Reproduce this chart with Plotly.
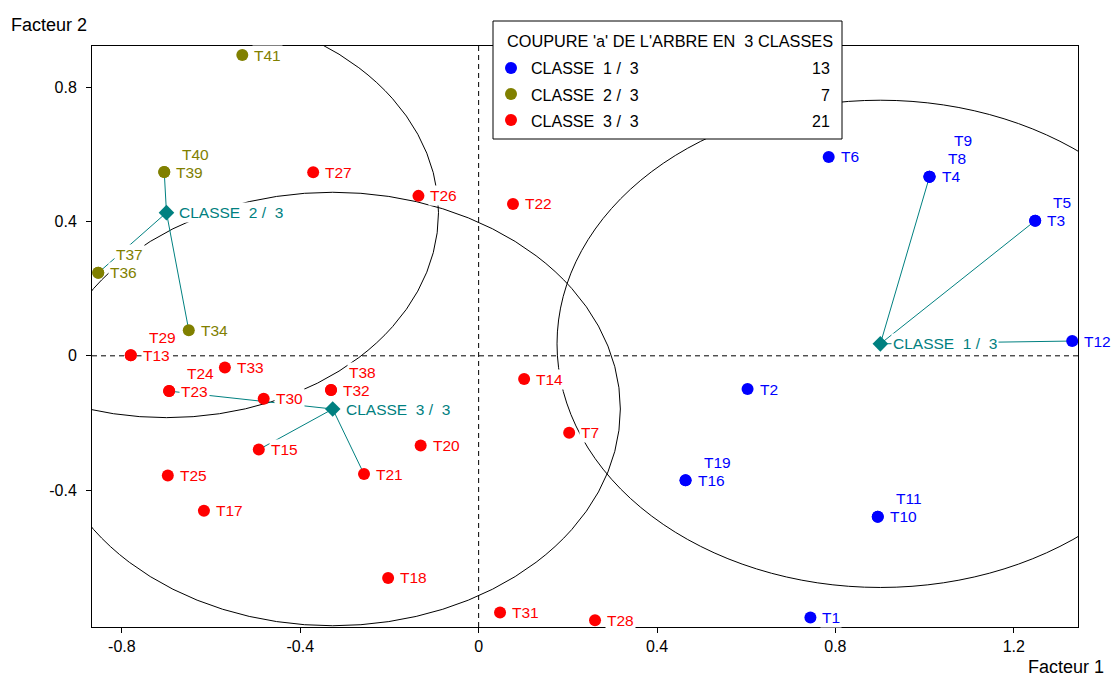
import numpy as np
import plotly.graph_objects as go

# Individuals on the first factorial plane, with their class (1, 2 or 3)
noms = ["T1", "T2", "T3", "T4", "T5", "T6", "T7", "T8", "T9", "T10",
        "T11", "T12", "T13", "T14", "T15", "T16", "T17", "T18", "T19", "T20",
        "T21", "T22", "T23", "T24", "T25", "T26", "T27", "T28", "T29", "T30",
        "T31", "T32", "T33", "T34", "T35", "T36", "T37", "T38", "T39", "T40",
        "T41"]
facteur1 = [0.744, 0.603, 1.248, 1.011, 1.248, 0.785, 0.203, 1.011, 1.011, 0.895,
            0.895, 1.331, -0.780, 0.102, -0.493, 0.464, -0.616, -0.203, 0.464, -0.130,
            -0.257, 0.077, -0.694, -0.694, -0.697, -0.135, -0.371, 0.261, -0.780, -0.482,
            0.048, -0.331, -0.569, -0.650, -0.604, -0.853, -0.853, -0.331, -0.705, -0.705,
            -0.530]
facteur2 = [-0.779, -0.099, 0.402, 0.533, 0.402, 0.592, -0.229, 0.533, 0.533, -0.479,
            -0.479, 0.044, 0.002, -0.069, -0.279, -0.370, -0.461, -0.661, -0.370, -0.267,
            -0.352, 0.452, -0.105, -0.105, -0.356, 0.476, 0.546, -0.787, 0.002, -0.128,
            -0.764, -0.102, -0.035, 0.076, 0.423, 0.247, 0.247, -0.102, 0.547, 0.547,
            0.895]
classe = [1, 1, 1, 1, 1, 1, 3, 1, 1, 1,
          1, 1, 3, 3, 3, 1, 3, 3, 1, 3,
          3, 3, 3, 3, 3, 3, 3, 3, 3, 3,
          3, 3, 3, 2, 2, 2, 2, 3, 2, 2,
          2]

classes = [1, 2, 3]
libelles_classes = ["CLASSE\u00a0\u00a0%d\u00a0/\u00a0\u00a03" % c for c in classes]
couleurs = {1: "#0000FF", 2: "#808000", 3: "#FF0000"}
rayons = {1: 0.725, 2: 0.61, 3: 0.645}
# individuals joined to their class centre
liens = {1: ["T4", "T3", "T12"], 2: ["T39", "T34", "T36"], 3: ["T23", "T15", "T21"]}
# labels lying under a class-centre label are not written
sans_etiquette = ["T35"]

titre_legende = "COUPURE 'a' DE L'ARBRE EN\u00a0\u00a03 CLASSES"
x_ticks = [-0.8, -0.4, 0, 0.4, 0.8, 1.2]
x_ticktext = ["-0.8", "-0.4", "0", "0.4", "0.8", "1.2"]
y_ticks = [-0.4, 0, 0.4, 0.8]
y_ticktext = ["-0.4", "0", "0.4", "0.8"]

TEAL = "#008080"
FONT = "Liberation Sans, Arial, sans-serif"
FS = 15.5

W, H = 1112, 680
L, R, T, B = 92, 34, 46, 53

fx = np.array(facteur1)
fy = np.array(facteur2)
cl = np.array(classe)

fig = go.Figure()
shapes = []
annotations = []

# class centres
centres = {c: (fx[cl == c].mean(), fy[cl == c].mean()) for c in classes}

# class circles
for c in classes:
    cx, cy = centres[c]
    r = rayons[c]
    shapes.append(dict(type="circle", xref="x", yref="y", layer="below",
                       x0=cx - r, x1=cx + r, y0=cy - r, y1=cy + r,
                       line=dict(color="black", width=1)))

# dashed axes through the origin
shapes.append(dict(type="line", xref="x", yref="paper", x0=0, x1=0, y0=0, y1=1,
                   layer="below", line=dict(color="black", width=1, dash="5px,4px")))
shapes.append(dict(type="line", xref="paper", yref="y", x0=0, x1=1, y0=0, y1=0,
                   layer="below", line=dict(color="black", width=1, dash="5px,4px")))

# links centre -> individuals
for c in classes:
    cx, cy = centres[c]
    for n in liens[c]:
        i = noms.index(n)
        fig.add_trace(go.Scatter(x=[cx, fx[i]], y=[cy, fy[i]], mode="lines",
                                 line=dict(color=TEAL, width=1),
                                 hoverinfo="skip", showlegend=False))

# individuals
for c in classes:
    m = cl == c
    fig.add_trace(go.Scatter(x=fx[m], y=fy[m], mode="markers",
                             marker=dict(size=12, color=couleurs[c], line=dict(width=0)),
                             hoverinfo="skip", showlegend=False))

# centres
fig.add_trace(go.Scatter(x=[centres[c][0] for c in classes],
                         y=[centres[c][1] for c in classes], mode="markers",
                         marker=dict(symbol="diamond", size=12, color=TEAL, line=dict(width=0)),
                         hoverinfo="skip", showlegend=False))

# point labels, stacked upward when individuals coincide
for i, n in enumerate(noms):
    if n in sans_etiquette:
        continue
    niveau = sum(1 for j in range(i) if fx[j] == fx[i] and fy[j] == fy[i])
    annotations.append(dict(x=fx[i], y=fy[i], xref="x", yref="y", text=n,
                            showarrow=False, xanchor="left", yanchor="middle",
                            xshift=10 + 6 * niveau, yshift=18 * niveau,
                            bgcolor="white", borderpad=1,
                            font=dict(family=FONT, size=FS, color=couleurs[classe[i]])))

for c, lib in zip(classes, libelles_classes):
    cx, cy = centres[c]
    annotations.append(dict(x=cx, y=cy, xref="x", yref="y", text=lib,
                            showarrow=False, xanchor="left", yanchor="middle",
                            xshift=11, bgcolor="white", borderpad=1,
                            font=dict(family=FONT, size=FS, color=TEAL)))

# helpers: pixel position -> paper coordinates
pw, ph = W - L - R, H - T - B


def px_x(p):
    return (p - L) / pw


def px_y(p):
    return (H - B - p) / ph


# legend box
FL = 16
shapes.append(dict(type="rect", xref="paper", yref="paper", layer="above",
                   x0=px_x(493), x1=px_x(842), y0=px_y(139), y1=px_y(21),
                   fillcolor="white", line=dict(color="black", width=1)))
annotations.append(dict(x=px_x(505), y=px_y(41), xref="paper", yref="paper",
                        text=titre_legende, showarrow=False, xanchor="left",
                        yanchor="middle", font=dict(family=FONT, size=16.3, color="black")))
for k, (c, lib) in enumerate(zip(classes, libelles_classes)):
    yy = 68 + 26 * k
    shapes.append(dict(type="circle", xref="paper", yref="paper", layer="above",
                       xsizemode="pixel", ysizemode="pixel",
                       xanchor=px_x(511), yanchor=px_y(yy),
                       x0=-6, x1=6, y0=-6, y1=6,
                       fillcolor=couleurs[c], line=dict(width=0)))
    annotations.append(dict(x=px_x(529), y=px_y(yy + 1), xref="paper", yref="paper",
                            text=lib, showarrow=False, xanchor="left", yanchor="middle",
                            font=dict(family=FONT, size=FL, color="black")))
    annotations.append(dict(x=px_x(832), y=px_y(yy + 1), xref="paper", yref="paper",
                            text=str(int((cl == c).sum())), showarrow=False,
                            xanchor="right", yanchor="middle",
                            font=dict(family=FONT, size=FL, color="black")))

# axis titles
annotations.append(dict(x=px_x(9), y=px_y(25), xref="paper", yref="paper",
                        text="Facteur 2", showarrow=False, xanchor="left", yanchor="middle",
                        font=dict(family=FONT, size=18, color="black")))
annotations.append(dict(x=px_x(1106), y=px_y(667), xref="paper", yref="paper",
                        text="Facteur 1", showarrow=False, xanchor="right", yanchor="middle",
                        font=dict(family=FONT, size=18, color="black")))

axis_common = dict(showgrid=False, zeroline=False, showline=True, mirror=True,
                   linecolor="black", linewidth=1, ticks="outside", ticklen=5,
                   tickcolor="black", tickwidth=1,
                   tickfont=dict(family=FONT, size=16, color="black"))

fig.update_layout(
    width=W, height=H, autosize=False,
    margin=dict(l=L, r=R, t=T, b=B, pad=0),
    paper_bgcolor="white", plot_bgcolor="white",
    xaxis=dict(range=[-0.867, 1.344], tickvals=x_ticks, ticktext=x_ticktext, **axis_common),
    yaxis=dict(range=[-0.807, 0.922], tickvals=y_ticks, ticktext=y_ticktext,
               ticklabelstandoff=6, **axis_common),
    shapes=shapes, annotations=annotations, showlegend=False,
)

fig.write_html("out.html")
